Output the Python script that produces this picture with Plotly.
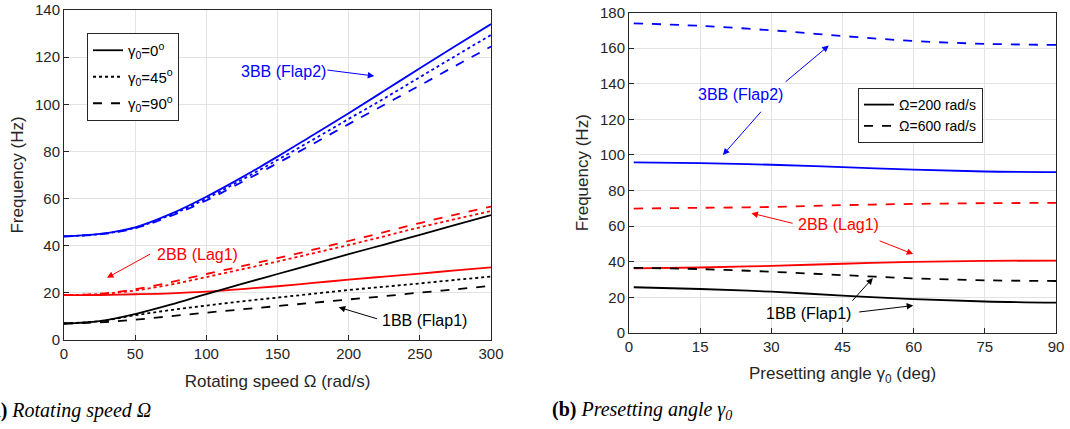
import plotly.graph_objects as go

# ---------- Data: panel (a) ----------
omega = [0, 25, 50, 75, 100, 125, 150, 175, 200, 225, 250, 275, 300]

flap2_g0 = [44, 45, 47.8, 53.5, 60.8, 69, 77.8, 87, 96.2, 105.7, 115.3, 124.7, 134]
flap2_g45 = [44, 44.9, 47.6, 53.1, 60, 68, 76.4, 85, 93.8, 102.5, 111.5, 120.5, 129.4]
flap2_g90 = [44, 44.8, 47.4, 52.6, 59.2, 67, 75, 83.2, 91.6, 99.8, 108, 116.3, 124.5]

lag1_g0 = [19, 19.1, 19.4, 19.8, 20.5, 21.6, 22.8, 24.2, 25.6, 26.9, 28.2, 29.5, 30.8]
lag1_g45 = [19, 19.5, 21, 23.5, 26.7, 30, 33.3, 36.8, 40.3, 44, 47.8, 51.3, 54.7]
lag1_g90 = [19, 19.6, 21.5, 24.5, 28, 31.3, 34.7, 38.3, 42, 45.8, 49.6, 53.2, 56.6]

flap1_g0 = [7, 8, 11, 15, 19.5, 23.8, 28, 32.2, 36.4, 40.5, 44.6, 48.8, 53]
flap1_g45 = [7, 8, 10.5, 12.7, 14.6, 16.4, 18, 19.6, 21.2, 22.6, 24, 25.5, 26.9]
flap1_g90 = [7, 7.5, 8.6, 10.1, 11.6, 13, 14.4, 15.8, 17.2, 18.6, 20.1, 21.5, 23]

# ---------- Data: panel (b) ----------
gamma = [1, 15, 30, 45, 60, 75, 90]

flap2_w200 = [95.8, 95.4, 94.5, 93.2, 91.7, 90.7, 90.4]
flap2_w600 = [173.9, 172.5, 170, 166.8, 164, 162.4, 161.8]
lag1_w200 = [36.3, 36.8, 37.7, 38.9, 40, 40.5, 40.7]
lag1_w600 = [69.9, 70.3, 70.8, 71.8, 72.5, 72.9, 73.1]
flap1_w200 = [25.7, 24.7, 23.2, 21, 19, 17.7, 17.1]
flap1_w600 = [36.6, 35.9, 34.4, 32.5, 30.7, 29.6, 29.2]

BLUE = "#0000ff"
RED = "#ff0000"
BLACK = "#000000"
AX = "#262626"
FONT = "Liberation Sans, Arial, sans-serif"
SERIF = "Liberation Serif, Times New Roman, serif"

fig = go.Figure()

def add(x, y, color, dash, xa, ya, name=None, show=False, legend=None, group=None):
    fig.add_trace(go.Scatter(
        x=x, y=y, mode="lines", line=dict(color=color, dash=dash, width=1.8),
        xaxis=xa, yaxis=ya, showlegend=show, name=name, legend=legend,
        legendgroup=group, line_shape="spline", hoverinfo="skip"))

# panel (a)
for ys, c in [(flap2_g0, BLUE), (lag1_g0, RED), (flap1_g0, BLACK)]:
    add(omega, ys, c, "solid", "x", "y")
for ys, c in [(flap2_g45, BLUE), (lag1_g45, RED), (flap1_g45, BLACK)]:
    add(omega, ys, c, "dot", "x", "y")
for ys, c in [(flap2_g90, BLUE), (lag1_g90, RED), (flap1_g90, BLACK)]:
    add(omega, ys, c, "dash", "x", "y")

# legend entries (a)
add([None], [None], BLACK, "solid", "x", "y", "γ<sub>0</sub>=0<sup>o</sup>", True, "legend", "g1")
add([None], [None], BLACK, "dot", "x", "y", "γ<sub>0</sub>=45<sup>o</sup>", True, "legend", "g2")
add([None], [None], BLACK, "dash", "x", "y", "γ<sub>0</sub>=90<sup>o</sup>", True, "legend", "g3")

# panel (b)
for ys, c in [(flap2_w200, BLUE), (lag1_w200, RED), (flap1_w200, BLACK)]:
    add(gamma, ys, c, "solid", "x2", "y2")
for ys, c in [(flap2_w600, BLUE), (lag1_w600, RED), (flap1_w600, BLACK)]:
    add(gamma, ys, c, "dash", "x2", "y2")

add([None], [None], BLACK, "solid", "x2", "y2", "Ω=200 rad/s", True, "legend2")
add([None], [None], BLACK, "dash", "x2", "y2", "Ω=600 rad/s", True, "legend2")

axis_common = dict(
    showline=True, mirror=True, linecolor=AX, linewidth=1, automargin=False,
    showgrid=True, gridcolor="#e3e3e3", gridwidth=1,
    ticks="inside", ticklen=5, tickcolor=AX, zeroline=False,
    tickfont=dict(family=FONT, size=15, color=AX),
    title_font=dict(family=FONT, size=17, color=AX),
)

fig.update_layout(
    template="none",
    width=1070, height=429, margin=dict(l=0, r=0, t=0, b=0, autoexpand=False),
    paper_bgcolor="white", plot_bgcolor="white",
    font=dict(family=FONT, color=AX),
    xaxis=dict(domain=[64/1070, 491/1070], range=[0, 300], tickvals=[0, 50, 100, 150, 200, 250, 300],
               title=dict(text="Rotating speed Ω (rad/s)", standoff=14), anchor="y", **axis_common),
    yaxis=dict(domain=[1-340/429, 1-10/429], range=[0, 140], tickvals=list(range(0, 141, 20)),
               title=dict(text="Frequency (Hz)", standoff=7), anchor="x", **axis_common),
    xaxis2=dict(domain=[629/1070, 1056/1070], range=[0, 90], tickvals=[0, 15, 30, 45, 60, 75, 90],
                title=dict(text="Presetting angle γ<sub>0</sub> (deg)", standoff=13), anchor="y2", **axis_common),
    yaxis2=dict(domain=[1-333/429, 1-12.5/429], range=[0, 180], tickvals=list(range(0, 181, 20)),
                title=dict(text="Frequency (Hz)", standoff=7), anchor="x2", **axis_common),
    legend=dict(x=87/1070, y=1-33/429, xanchor="left", yanchor="top",
                bgcolor="white", bordercolor=AX, borderwidth=1,
                font=dict(family=FONT, size=15, color=BLACK), itemwidth=30, tracegroupgap=4),
    legend2=dict(x=858/1070, y=1-88/429, xanchor="left", yanchor="top",
                 bgcolor="white", bordercolor=AX, borderwidth=1,
                 font=dict(family=FONT, size=14, color=BLACK), itemwidth=30),
)

ann = []
def label(text, x, y, xr, yr, color):
    ann.append(dict(text=text, x=x, y=y, xref=xr, yref=yr, showarrow=False,
                    font=dict(family=FONT, size=16, color=color), xanchor="center", yanchor="middle"))

def arrow(x0, y0, x1, y1, xr, yr, color):
    ann.append(dict(text="", x=x1, y=y1, ax=x0, ay=y0, xref=xr, yref=yr, axref=xr, ayref=yr,
                    showarrow=True, arrowhead=2, arrowsize=1.3, arrowwidth=1, arrowcolor=color))

# panel (a) annotations
label("3BB (Flap2)", 154, 113.9, "x", "y", BLUE)
arrow(184, 114.6, 218, 112, "x", "y", BLUE)
label("2BB (Lag1)", 93.6, 36.1, "x", "y", RED)
arrow(61.6, 36.8, 30.2, 26.4, "x", "y", RED)
label("1BB (Flap1)", 253.5, 8.2, "x", "y", BLACK)
arrow(221, 8.8, 193, 13.9, "x", "y", BLACK)

# panel (b) annotations
label("3BB (Flap2)", 23.6, 133.9, "x2", "y2", BLUE)
arrow(32.7, 140.4, 42.1, 161.4, "x2", "y2", BLUE)
arrow(28.1, 125.1, 19.8, 100, "x2", "y2", BLUE)
label("2BB (Lag1)", 44.2, 61, "x2", "y2", RED)
arrow(34.8, 61.4, 25.8, 67.3, "x2", "y2", RED)
arrow(52.5, 52.1, 59.9, 44.3, "x2", "y2", RED)
label("1BB (Flap1)", 37.9, 10.8, "x2", "y2", BLACK)
arrow(46.8, 17.3, 51.4, 30.9, "x2", "y2", BLACK)
arrow(48.2, 11.7, 59.9, 15.4, "x2", "y2", BLACK)

# captions
ann.append(dict(text="<b>(a)</b> <i>Rotating speed Ω</i>", x=-18/1070, y=1-410/429,
                xref="paper", yref="paper", showarrow=False, xanchor="left", yanchor="middle",
                font=dict(family=SERIF, size=20, color=BLACK)))
ann.append(dict(text="<b>(b)</b> <i>Presetting angle γ<sub>0</sub></i>", x=550/1070, y=1-410/429,
                xref="paper", yref="paper", showarrow=False, xanchor="left", yanchor="middle",
                font=dict(family=SERIF, size=20, color=BLACK)))

fig.update_layout(annotations=ann)
fig.write_html("out.html")
